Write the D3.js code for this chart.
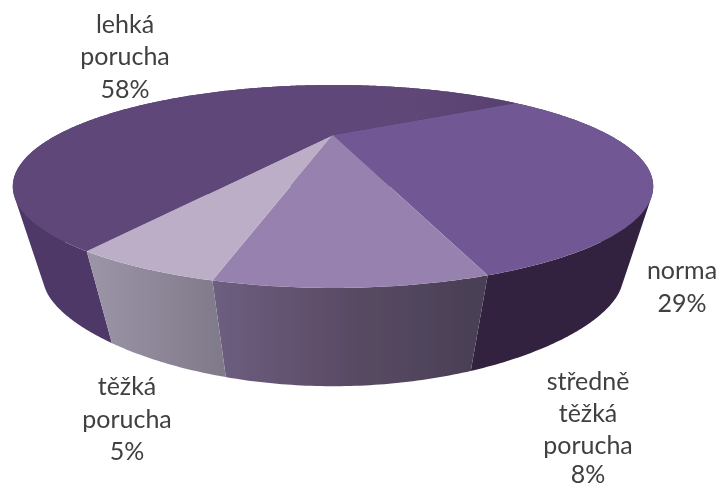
<!DOCTYPE html>
<html><head><meta charset="utf-8">
<script src="https://cdn.jsdelivr.net/npm/d3@7"></script>
<style>html,body{margin:0;background:#fff}svg{display:block}text{font-family:Lato,"Open Sans",sans-serif;font-size:25px;fill:#404040;text-anchor:middle}</style>
</head><body><svg id="c" width="722" height="488"></svg>
<script>
const categories = ["norma","středně těžká porucha","těžká porucha","lehká porucha"];
const values = [29.4,8.2,4.8,57.6];
const labels = ["29%","8%","5%","58%"];
const topColors = ["#715995","#9781ae","#bcaec7","url(#t3)"];
const wallColors = ["#32243f","url(#w1)","url(#w2)","#4e3968"];

const W=722,H=488;
const svg=d3.select("#c");
const defs=svg.append("defs");
function grad(id,x1,x2,stops){
  const g=defs.append("linearGradient").attr("id",id).attr("gradientUnits","userSpaceOnUse")
    .attr("x1",x1).attr("x2",x2).attr("y1",0).attr("y2",0);
  stops.forEach(s=>g.append("stop").attr("offset",s[0]).attr("stop-color",s[1]));
}
grad("w1",210,484,[[0,"#6e5f80"],[.5,"#5a4b65"],[1,"#483f54"]]);
grad("w2",88,225,[[0,"#9c95a7"],[1,"#7f798a"]]);
grad("t3",300,510,[[0,"#60477a"],[.55,"#5f4678"],[1,"#584270"]]);
defs.append("filter").attr("id","soft").append("feGaussianBlur").attr("stdDeviation",0.55);

// perspective projection of a unit disc
const cx=333,cy=135,k=0.507,S=75.4,R=276;
const vx=333,vy=1150;
const xS=d3.scaleLinear().domain([-1,1]).range([cx-R,cx+R]);
const yS=d3.scaleLinear().domain([-1,1]).range([cy-S,cy+S]);
function proj(a){const u=Math.sin(a),v=-Math.cos(a),w=1-k*v;
  return [cx+(xS(u)-cx)/w, cy+(yS(v)-cy)/w];}
// the lower rim: nearer points drop further
function drop(p){const t=Math.max(0,(p[1]-186)/102),s=0.906-0.02*t*t;
  return [vx+s*(p[0]-vx),vy+s*(p[1]-vy)];}
const line=d3.line();
const arcPts=(a0,a1)=>{const n=Math.max(2,Math.ceil((a1-a0)/0.01));
  return d3.range(n+1).map(i=>proj(a0+(a1-a0)*i/n));};
// wall as a union of same-wound quads, so the silhouette fills fully
function wallPath(d){
  return d3.pairs(arcPts(d.startAngle,d.endAngle)).map(([a,b])=>{
    const q=[a,b,drop(b),drop(a)];
    if(d3.polygonArea(q)<0) q.reverse();
    return line(q)+"Z";
  }).join("");
}

const pie=d3.pie().sort(null).startAngle(57.4*Math.PI/180).endAngle(417.4*Math.PI/180);
const arcs=pie(values);
const g=svg.append("g").attr("filter","url(#soft)");

// walls, back slices first
g.selectAll("path.wall").data([3,0,1,2].map(i=>arcs[i])).join("path").attr("class","wall")
 .attr("d",wallPath)
 .attr("fill",d=>wallColors[d.index]);
// top faces
g.selectAll("path.top").data(arcs).join("path").attr("class","top")
 .attr("d",d=>line([[cx,cy]].concat(arcPts(d.startAngle,d.endAngle)))+"Z")
 .attr("fill",d=>topColors[d.index]);

// labels
const labelLayout=[
 {x:682,y:[279,312],lines:[categories[0],labels[0]]},
 {x:588,y:[390,422,454,483],lines:["středně","těžká","porucha",labels[1]]},
 {x:127,y:[395,428,460],lines:["těžká","porucha",labels[2]]},
 {x:125,y:[33,65,98],lines:["lehká","porucha",labels[3]]}];
labelLayout.forEach(l=>l.lines.forEach((t,i)=>{
  svg.append("text").attr("x",l.x).attr("y",l.y[i]).attr("filter","url(#soft)").text(t);
}));
</script></body></html>
